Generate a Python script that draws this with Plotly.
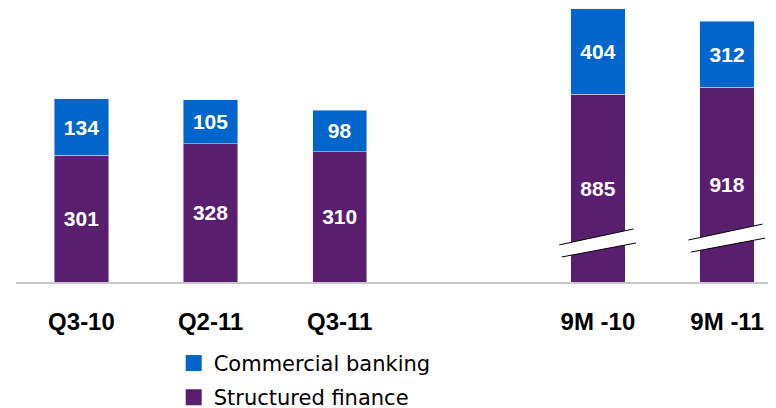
import plotly.graph_objects as go

# data
quarters = ["Q3-10", "Q2-11", "Q3-11"]
nine_months = ["9M -10", "9M -11"]
structured_q = [301, 328, 310]
commercial_q = [134, 105, 98]
structured_9m = [885, 918]
commercial_9m = [404, 312]

x_q = [0, 1, 2]
x_9m = [4, 5]

BLUE = "#0066CC"
PURPLE = "#5A1E6E"

fig = go.Figure()

txt = dict(color="white", family="Arial, Liberation Sans", size=21, weight="bold")

# quarters on y, 9M on y2 (broken axis -> half scale)
fig.add_trace(go.Bar(x=x_q, y=structured_q, marker_color=PURPLE, width=0.42,
                     text=structured_q, textposition="inside", insidetextanchor="middle",
                     textfont=txt, showlegend=False))
fig.add_trace(go.Bar(x=x_q, y=commercial_q, marker_color=BLUE, width=0.42,
                     text=commercial_q, textposition="inside", insidetextanchor="middle",
                     textfont=txt, showlegend=False))
fig.add_trace(go.Bar(x=x_9m, y=structured_9m, marker_color=PURPLE, width=0.42, yaxis="y2",
                     text=structured_9m, textposition="inside", insidetextanchor="middle",
                     textfont=txt, showlegend=False))
fig.add_trace(go.Bar(x=x_9m, y=commercial_9m, marker_color=BLUE, width=0.42, yaxis="y2",
                     text=commercial_9m, textposition="inside", insidetextanchor="middle",
                     textfont=txt, showlegend=False))

# legend entries (bigger squares than the default bar swatch)
fig.add_trace(go.Scatter(x=[None], y=[None], mode="markers", name="Commercial banking",
                         legendgroup="cb", marker=dict(symbol="square", size=18, color=BLUE)))
fig.add_trace(go.Scatter(x=[None], y=[None], mode="markers", name="Structured finance",
                         legendgroup="sf", marker=dict(symbol="square", size=18, color=PURPLE)))

# axis break marks on the 9M bars
def add_break(xc, yv):
    x0, x1 = xc - 0.30, xc + 0.275
    d = 'M{},{} L{},{} L{},{} L{},{} Z'.format(x0, yv, x1, yv + 75, x1 + 0.02, yv + 9, x0 + 0.02, yv - 57)
    fig.add_shape(type="path", path=d, xref="x", yref="y2", fillcolor="white", line_width=0)
    fig.add_shape(type="line", x0=x0, y0=yv, x1=x1, y1=yv + 75, xref="x", yref="y2",
                  line=dict(color="black", width=1))
    fig.add_shape(type="line", x0=x0 + 0.02, y0=yv - 57, x1=x1 + 0.02, y1=yv + 9, xref="x", yref="y2",
                  line=dict(color="black", width=1))

add_break(4, 175)
add_break(5, 198)

# page body has an 8px margin, so the figure is 768x400
fig.update_layout(
    barmode="stack",
    width=768, height=400,
    margin=dict(l=8, r=0, t=0, b=126, autoexpand=False),
    plot_bgcolor="white", paper_bgcolor="white",
    xaxis=dict(range=[-0.507, 5.379], tickvals=x_q + x_9m, ticktext=quarters + nine_months,
               showgrid=False, zeroline=False, showline=True, linecolor="#C8C8C8", linewidth=2,
               ticks="", ticklabelstandoff=17, automargin=False,
               tickfont=dict(family="Arial, Liberation Sans", size=24, color="black", weight="bold")),
    yaxis=dict(range=[0, 651], visible=False, showgrid=False, zeroline=False),
    yaxis2=dict(range=[0, 1292], visible=False, showgrid=False, zeroline=False,
                overlaying="y", side="right"),
    showlegend=True,
    legend=dict(x=0.2075, xanchor="left", y=-0.222, yanchor="top", traceorder="grouped",
                tracegroupgap=4,
                font=dict(family="DejaVu Sans, Verdana", size=21, color="black"),
                bgcolor="rgba(0,0,0,0)", itemsizing="trace"),
)

fig.write_html("out.html")
